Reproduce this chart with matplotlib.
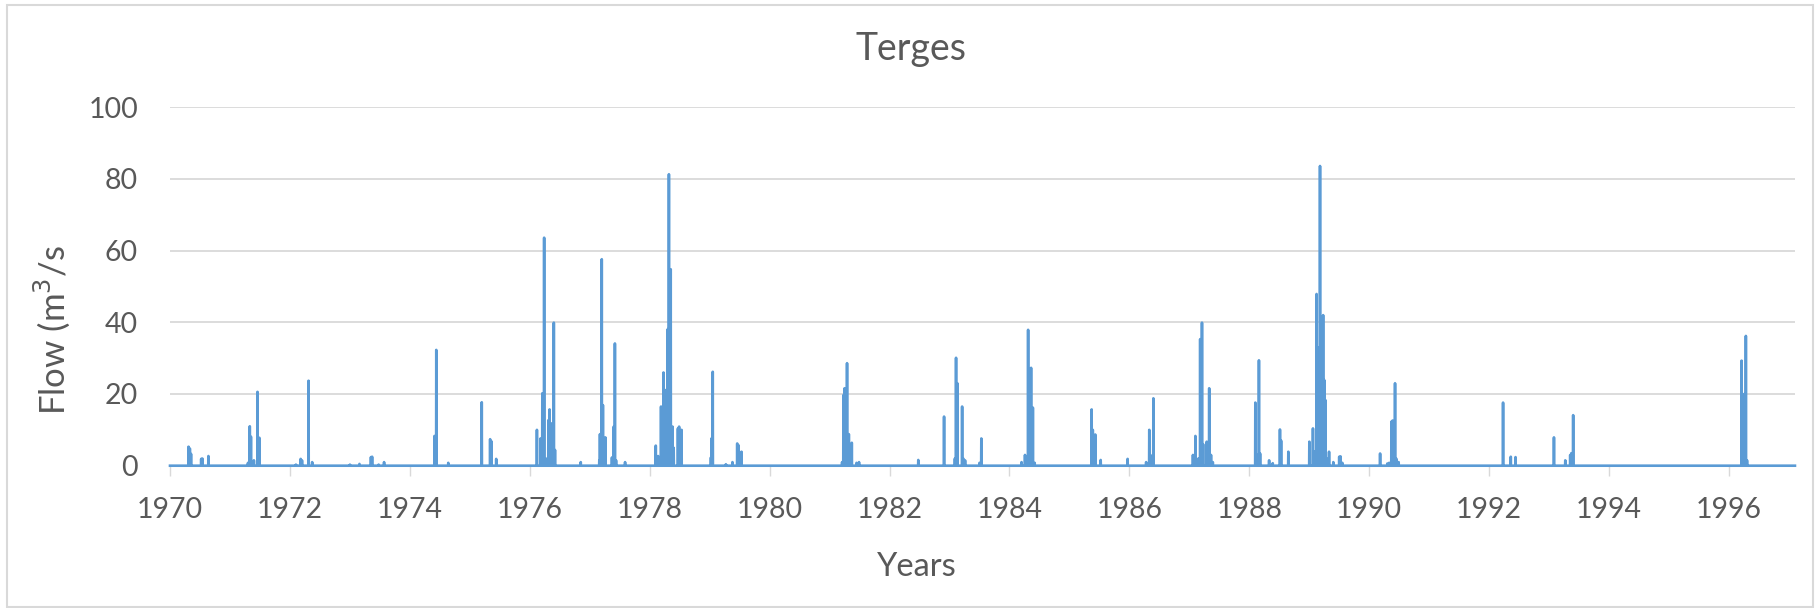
import numpy as np
import matplotlib
matplotlib.use("Agg")
import matplotlib.pyplot as plt
from matplotlib.patches import Rectangle

# ---- data (decimal year of event, peak flow m3/s); flow is ~0 elsewhere ----
event_years = [
    1970.31, 1970.33, 1970.35, 1970.52, 1970.54, 1970.64,
    1971.30, 1971.33, 1971.35, 1971.40, 1971.46, 1971.49,
    1972.10, 1972.18, 1972.20, 1972.31, 1972.37,
    1973.00, 1973.16, 1973.35, 1973.37, 1973.48, 1973.57,
    1974.41, 1974.44, 1974.64,
    1975.20, 1975.34, 1975.36, 1975.44,
    1976.12, 1976.18, 1976.21, 1976.24, 1976.27, 1976.31, 1976.33, 1976.36, 1976.40, 1976.42, 1976.85,
    1977.16, 1977.17, 1977.20, 1977.22, 1977.26, 1977.37, 1977.40, 1977.42, 1977.44, 1977.59,
    1978.10, 1978.14, 1978.19, 1978.23, 1978.26, 1978.30, 1978.32, 1978.35, 1978.38, 1978.40, 1978.47, 1978.49, 1978.53,
    1979.02, 1979.03, 1979.05, 1979.27, 1979.38, 1979.46, 1979.48, 1979.53,
    1981.21, 1981.23, 1981.25, 1981.29, 1981.32, 1981.37, 1981.45, 1981.49,
    1982.48, 1982.91,
    1983.09, 1983.11, 1983.13, 1983.21, 1983.23, 1983.26, 1983.50, 1983.53,
    1984.20, 1984.26, 1984.31, 1984.36, 1984.39, 1984.42,
    1985.37, 1985.39, 1985.43, 1985.52, 1985.97,
    1986.28, 1986.33, 1986.35, 1986.40,
    1987.06, 1987.10, 1987.15, 1987.18, 1987.21, 1987.23, 1987.29, 1987.33, 1987.36, 1987.39,
    1988.10, 1988.13, 1988.16, 1988.18, 1988.33, 1988.39, 1988.51, 1988.53, 1988.65,
    1989.00, 1989.06, 1989.08, 1989.12, 1989.15, 1989.18, 1989.21, 1989.23, 1989.25, 1989.27, 1989.29,
    1989.33, 1989.40, 1989.50, 1989.52, 1989.55,
    1990.18, 1990.30, 1990.33, 1990.37, 1990.39, 1990.43, 1990.45, 1990.49,
    1992.23, 1992.36, 1992.44,
    1993.08, 1993.27, 1993.35, 1993.37, 1993.40,
    1996.21, 1996.23, 1996.25, 1996.28, 1996.30,
]
event_flows = [
    5.3, 4.8, 3.3, 1.9, 2.0, 2.7,
    0.8, 11.0, 8.1, 1.5, 20.6, 7.8,
    0.3, 1.9, 1.5, 23.7, 1.0,
    0.3, 0.5, 2.4, 2.5, 0.3, 1.0,
    8.3, 32.3, 0.8,
    17.7, 7.4, 6.8, 1.9,
    10.0, 7.6, 20.2, 63.6, 2.0, 12.7, 15.7, 11.8, 39.9, 4.4, 1.0,
    1.5, 8.8, 57.6, 16.9, 7.9, 2.3, 10.9, 34.1, 1.5, 1.0,
    5.6, 2.7, 16.5, 26.0, 21.1, 38.1, 81.3, 54.8, 10.9, 5.0, 10.4, 10.9, 10.0,
    2.3, 7.6, 26.2, 0.4, 1.0, 6.2, 5.7, 3.9,
    1.0, 19.7, 21.6, 28.6, 8.8, 6.4, 0.8, 1.0,
    1.6, 13.7,
    2.0, 30.1, 23.0, 16.5, 2.0, 1.5, 0.8, 7.6,
    1.0, 3.0, 37.9, 27.3, 16.2, 0.8,
    15.7, 10.0, 8.7, 1.6, 1.9,
    1.0, 10.0, 3.0, 18.8,
    3.0, 8.3, 2.0, 35.3, 39.9, 6.0, 6.7, 21.6, 3.0, 1.0,
    17.6, 3.0, 29.4, 3.4, 1.5, 0.7, 10.1, 7.0, 3.9,
    6.7, 10.4, 4.0, 47.9, 33.0, 83.6, 41.1, 42.0, 23.9, 18.3, 2.0,
    3.9, 1.0, 2.5, 2.6, 0.8,
    3.4, 0.6, 0.8, 12.3, 12.6, 23.0, 2.0, 1.0,
    17.6, 2.5, 2.4,
    7.9, 1.5, 3.0, 3.5, 14.1,
    29.3, 19.3, 20.0, 36.2, 1.5,
]
start_year = 1970.0
end_year = 1997.1
x_ticks = list(range(1970, 1997, 2))
y_ticks = [0, 20, 40, 60, 80, 100]

# daily series
n_days = int(round((end_year - start_year) * 365.25)) + 1
t = start_year + np.arange(n_days) / 365.25
flow = np.zeros(n_days)
for ey, ev in zip(event_years, event_flows):
    i = int(round((ey - start_year) * 365.25))
    flow[i] = max(flow[i], ev)

W, H = 1816, 608
fig = plt.figure(figsize=(W / 100, H / 100), dpi=100)
plt.rcParams['font.family'] = ['Lato', 'DejaVu Sans']
txt = '#595959'
grid = '#D9D9D9'

ax = fig.add_axes([170 / W, 1 - 465.7 / H, (1795 - 170) / W, (465.7 - 107.2) / H])
ax.plot(t, flow, color='#5B9BD5', lw=1.9, clip_on=False, zorder=3)
ax.set_xlim(start_year, end_year)
ax.set_ylim(0, 100)
ax.set_xticks(x_ticks)
ax.set_xticklabels([str(v) for v in x_ticks])
ax.set_yticks(y_ticks)
ax.set_yticklabels([str(v) for v in y_ticks])
ax.yaxis.grid(True, color=grid, lw=1.3)
ax.set_axisbelow(True)
for s in ['top', 'right', 'left']:
    ax.spines[s].set_visible(False)
ax.spines['bottom'].set_color(grid)
ax.spines['bottom'].set_linewidth(1.3)
ax.tick_params(axis='x', length=7.5, width=1.0, color=grid, colors=txt, labelsize=20.5, pad=15)
ax.tick_params(axis='y', length=0, colors=txt, labelsize=20.5, pad=23)
for lab in ax.get_xticklabels() + ax.get_yticklabels():
    lab.set_color(txt)

fig.text(911 / W, 1 - 49 / H, 'Terges', ha='center', va='center', fontsize=27, color=txt)
fig.text(917 / W, 1 - 567 / H, 'Years', ha='center', va='center', fontsize=23.5, color=txt)
fig.text(52 / W, 1 - 330 / H, 'Flow (m$^3$/s', ha='center', va='center', rotation=90,
         fontsize=25, color=txt)

fig.patches.append(Rectangle((6.5 / W, 1.5 / H), (1813 - 6.5) / W, (603.3 - 1.5) / H,
                             transform=fig.transFigure, fill=False, edgecolor=grid, lw=1.5))

fig.savefig('out.png', dpi=100, facecolor='white')
